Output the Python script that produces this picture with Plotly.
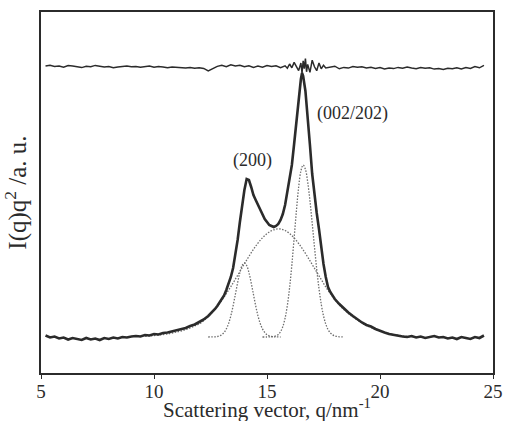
import plotly.graph_objects as go

# ---------------- data ----------------
# measured total intensity I(q)q^2 (arbitrary units)
q_total = [5.2, 5.4, 5.6, 5.8, 6.0, 6.2, 6.4, 6.6, 6.8, 7.0, 7.2, 7.4, 7.6, 7.8, 8.0,
           8.2, 8.4, 8.6, 8.8, 9.0, 9.2, 9.4, 9.6, 9.8, 10.0, 10.2, 10.4, 10.6, 10.8,
           11.0, 11.2, 11.4, 11.6, 11.8, 12.0, 12.2, 12.4, 12.5, 12.6, 12.7, 12.8, 12.9,
           13.0, 13.1, 13.2, 13.3, 13.4, 13.5, 13.6, 13.7, 13.8, 13.9, 14.0, 14.1, 14.2,
           14.3, 14.4, 14.5, 14.6, 14.7, 14.8, 14.9, 15.0, 15.1, 15.2, 15.3, 15.4, 15.5,
           15.6, 15.7, 15.8, 15.9, 16.0, 16.1, 16.2, 16.3, 16.4, 16.5, 16.55, 16.6, 16.7,
           16.8, 16.9, 17.0, 17.1, 17.2, 17.3, 17.4, 17.5, 17.6, 17.7, 17.8, 17.9, 18.0,
           18.2, 18.4, 18.6, 18.8, 19.0, 19.2, 19.4, 19.6, 19.8, 20.0, 20.2, 20.4, 20.6,
           20.8, 21.0, 21.2, 21.4, 21.6, 21.8, 22.0, 22.2, 22.4, 22.6, 22.8, 23.0, 23.2,
           23.4, 23.6, 23.8, 24.0, 24.2, 24.4, 24.6]
i_total = [1.5, -0.5, 0.5, -1.5, -0.5, -2.5, -1, -2, -3, -1, -2.5, -1.5, -3, -1, -2,
           -0.5, -1.5, 0, -0.5, 0.5, 1, 0.5, 2, 1.5, 3, 2.5, 4, 4.5, 5.5,
           6.5, 8, 9, 11, 12.5, 15, 17.5, 21, 23, 25.5, 28, 31, 34.5,
           37, 41.5, 47, 53, 60, 69, 81, 97, 115, 132, 147, 158, 157,
           150, 142, 137, 132, 127, 122, 118, 115, 112, 111, 110, 111, 113,
           117, 123, 132, 145, 158, 172, 193, 216, 240, 258, 264, 261, 246,
           222, 192, 163, 140, 124, 108, 89, 73, 60, 50, 45, 41, 38,
           33, 28.5, 24.5, 21, 17.5, 14.5, 12, 10.5, 8, 6, 4.5, 3, 2,
           1, 0.5, 0, 1, -0.5, 0.5, -1, 0, 1, -0.5, 0, -1.5, -0.5,
           -2, 0, -1, -2, 0, -1, 1.5]

# broad (amorphous) component
q_broad = [9.6, 9.8, 10.0, 10.2, 10.4, 10.6, 10.8, 11.0, 11.2, 11.4, 11.6, 11.8, 12.0,
           12.2, 12.4, 12.6, 12.8, 13.0, 13.2, 13.4, 13.6, 13.8, 14.0, 14.2, 14.4, 14.6,
           14.8, 15.0, 15.2, 15.4, 15.6, 15.8, 16.0, 16.2, 16.4, 16.6, 16.8, 17.0, 17.2,
           17.4, 17.6, 17.8, 18.0, 18.2, 18.4, 18.6, 18.8, 19.0, 19.2, 19.4, 19.6, 19.8,
           20.0, 20.2, 20.4, 20.6, 20.8, 21.0, 21.2, 21.4, 21.6]
i_broad = [1, 1, 1.5, 2, 2.5, 3, 4, 5, 6, 7.5, 9, 11, 13,
           16.4, 20.5, 25.2, 30.6, 36.6, 43.3, 50.4, 57.8, 65.5, 73.2, 80.6, 87.6, 93.9,
           99.2, 103.4, 106.3, 107.8, 108, 106.5, 103.5, 99, 93.5, 87, 80, 72.5, 65,
           57.5, 50, 43.5, 37.5, 32, 27.5, 23.5, 20, 17, 14, 11.5, 9.5, 7.5,
           6, 4.5, 3.5, 2.5, 1.8, 1.2, 0.7, 0.3, 0]

# (200) crystalline peak component
q_p200 = [12.4, 12.6, 12.7, 12.8, 12.9, 13.0, 13.1, 13.2, 13.3, 13.4, 13.5, 13.6, 13.7,
          13.8, 13.9, 14.0, 14.1, 14.2, 14.3, 14.4, 14.5, 14.6, 14.7, 14.8, 14.9, 15.0,
          15.1, 15.2, 15.3, 15.4, 15.6]
i_p200 = [0, 0.1, 0.2, 0.5, 1.1, 2.3, 4.5, 8.1, 13.5, 21.2, 31.2, 42.6, 54.2,
          64.5, 71.5, 74, 71.5, 64.5, 54.2, 42.6, 31.2, 21.2, 13.5, 8.1, 4.5, 2.3,
          1.1, 0.5, 0.2, 0.1, 0]

# (002/202) crystalline peak component
q_p002 = [14.8, 15.0, 15.2, 15.3, 15.4, 15.5, 15.6, 15.7, 15.8, 15.9, 16.0, 16.1, 16.2,
          16.3, 16.4, 16.5, 16.6, 16.7, 16.8, 16.9, 17.0, 17.1, 17.2, 17.3, 17.4, 17.5,
          17.6, 17.7, 17.8, 17.9, 18.0, 18.1, 18.2, 18.4]
i_p002 = [0, 0, 0.2, 0.5, 1.2, 2.6, 5.4, 10.4, 18.8, 31.5, 49.4, 72.3, 98.9,
          125.9, 149.8, 166, 172, 167.7, 155.1, 136.3, 113.8, 90.2, 67.9, 48.5, 32.9, 21.2,
          13.0, 7.5, 4.2, 2.2, 1.1, 0.5, 0.2, 0]

# fit residual (offset trace at the top)
q_resid = [5.2, 5.4, 5.6, 5.8, 6.0, 6.2, 6.4, 6.6, 6.8, 7.0, 7.2, 7.4, 7.6, 7.8, 8.0,
           8.2, 8.4, 8.6, 8.8, 9.0, 9.2, 9.4, 9.6, 9.8, 10.0, 10.2, 10.4, 10.6, 10.8,
           11.0, 11.2, 11.4, 11.6, 11.8, 12.0, 12.2, 12.4, 12.6, 12.8, 13.0, 13.2, 13.4,
           13.6, 13.8, 14.0, 14.2, 14.4, 14.6, 14.8, 15.0, 15.2, 15.4, 15.6, 15.8, 15.9,
           16.0, 16.1, 16.2, 16.3, 16.4, 16.5, 16.55, 16.6, 16.65, 16.7, 16.75, 16.8, 16.9,
           17.0, 17.1, 17.2, 17.3, 17.4, 17.5, 17.6, 17.8, 18.0, 18.2, 18.4, 18.6, 18.8,
           19.0, 19.2, 19.4, 19.6, 19.8, 20.0, 20.2, 20.4, 20.6, 20.8, 21.0, 21.2, 21.4,
           21.6, 21.8, 22.0, 22.2, 22.4, 22.6, 22.8, 23.0, 23.2, 23.4, 23.6, 23.8, 24.0,
           24.2, 24.4, 24.6]
i_resid = [271, 271.8, 270.6, 270.9, 269.8, 271.5, 271.1, 270.2, 269.4, 270.8, 270.3, 271.6, 270.9, 270.1, 270.4,
           269.2, 270.1, 270.6, 270.9, 270.2, 270.5, 269.8, 270.3, 270.9, 269.7, 270.5, 270.1, 269.3, 269.9,
           269.5, 269.8, 268.9, 269.6, 268.8, 269.3, 268.6, 266.2, 268.4, 270.6, 271.8, 270.4, 272.2,
           271.1, 271.7, 270.2, 271.3, 269.6, 270.9, 269.8, 271.4, 270.5, 271.2, 269.4, 271.2, 268.8,
           273.0, 269.2, 274.6, 270.1, 266.4, 274.0, 263.8, 276.2, 268.3, 278.5, 265.2, 272.6, 264.6,
           276.8, 270.2, 266.3, 274.1, 268.2, 271.8, 269.1, 269.6, 270.8, 268.2, 269.6, 268.9, 270.4,
           269.7, 270.2, 269.1, 269.8, 268.6, 269.4, 268.1, 269.0, 268.4, 269.6, 268.7, 269.9, 268.9,
           268.3, 269.4, 268.7, 269.2, 267.9, 268.6, 267.6, 268.8, 268.2, 269.3, 268.1, 269.5, 268.6,
           270.4, 269.2, 271.6]

x_ticks = [5, 10, 15, 20, 25]
peak_labels = ["(200)", "(002/202)"]
peak_label_q = [14.37, 18.77]
peak_label_i = [177, 224]

# ---------------- figure ----------------
SERIF = "Liberation Serif, Times New Roman, serif"
INK = "#2b2b2b"
DOT = "#6e6e6e"

fig = go.Figure()
for qq, ii in [(q_broad, i_broad), (q_p200, i_p200), (q_p002, i_p002)]:
    fig.add_trace(go.Scatter(x=qq, y=ii, mode="lines", line_shape="spline",
                             line=dict(color=DOT, width=1.3, dash="1.5px,1.5px"),
                             showlegend=False, hoverinfo="skip"))
fig.add_trace(go.Scatter(x=q_total, y=i_total, mode="lines",
                         line=dict(color=INK, width=2.6), showlegend=False))
fig.add_trace(go.Scatter(x=q_resid, y=i_resid, mode="lines",
                         line=dict(color=INK, width=1.5), showlegend=False))

for txt, xq, yi in zip(peak_labels, peak_label_q, peak_label_i):
    fig.add_annotation(x=xq, y=yi, text=txt, showarrow=False,
                       font=dict(family=SERIF, size=18, color=INK))

# x-axis title placed close under the tick labels, as in the reference
fig.add_annotation(x=0.5, y=-0.098, xref="paper", yref="paper",
                   text="Scattering vector, q/nm<sup>-1</sup>", showarrow=False,
                   xanchor="center", yanchor="middle",
                   font=dict(family=SERIF, size=21, color=INK))

fig.update_layout(
    width=512, height=421,
    margin=dict(l=41, r=9, t=12, b=48),
    paper_bgcolor="white", plot_bgcolor="white",
    font=dict(family=SERIF, color=INK),
)
fig.update_xaxes(range=[5, 25], tickvals=x_ticks, ticktext=[str(t) for t in x_ticks],
                 showgrid=False, zeroline=False, showline=True, mirror=True,
                 linecolor=INK, linewidth=1.6, ticks="outside", ticklen=4,
                 tickwidth=1.4, tickcolor=INK, ticklabelstandoff=-4,
                 ticklabeloverflow="allow",
                 tickfont=dict(family=SERIF, size=19, color=INK))
fig.update_yaxes(range=[-36, 325], showgrid=False, zeroline=False, showline=True,
                 mirror=True, linecolor=INK, linewidth=1.6, ticks="",
                 showticklabels=False,
                 title=dict(text="I(q)q<sup>2</sup> /a. u.",
                            font=dict(family=SERIF, size=25, color=INK), standoff=6))

# remove the default 8px page margin so the 512x421 figure fills the window exactly
fig.write_html("out.html",
               config={"displayModeBar": False},
               post_script="document.body.style.margin='0';"
                           "document.body.style.overflow='hidden';")
